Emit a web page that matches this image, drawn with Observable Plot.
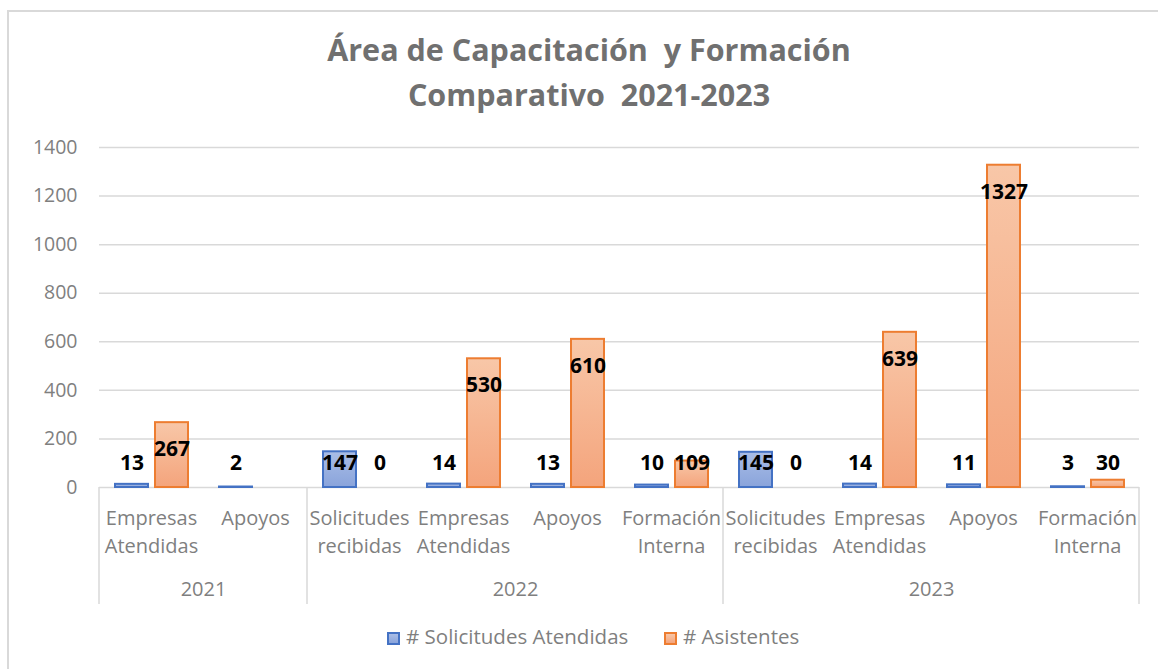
<!DOCTYPE html>
<html><head><meta charset="utf-8">
<script src="https://cdn.jsdelivr.net/npm/d3@7"></script>
<script src="https://cdn.jsdelivr.net/npm/@observablehq/plot@0.6"></script>
<style>
body{margin:0;background:#fff;font-family:"Open Sans",sans-serif;}
#wrap{position:relative;width:1158px;height:669px;overflow:hidden;background:#fff}
#border{position:absolute;left:7px;top:10px;width:1200px;height:720px;border:2px solid #d9d9d9;box-sizing:border-box}
#title{position:absolute;top:27px;left:0;width:1178px;text-align:center;font-weight:700;font-size:30.5px;line-height:45px;color:#707070}
#chart{position:absolute;top:120px;left:0}
.leg{position:absolute;top:622px;font-size:20.5px;color:#7f7f7f;line-height:28px;white-space:nowrap}
.sw{display:inline-block;width:13px;height:13px;vertical-align:-1px;margin-right:6px;box-sizing:border-box}
</style>
</head><body>
<div id="wrap">
<div id="border"></div>
<div id="title">Área de Capacitación&nbsp; y Formación<br>Comparativo&nbsp; 2021-2023</div>
<div id="chart"></div>
<div class="leg" style="left:387px"><span class="sw" style="background:linear-gradient(#a9bde6,#8aa4db);border:2px solid #4472c4"></span># Solicitudes Atendidas</div>
<div class="leg" style="left:664px"><span class="sw" style="background:linear-gradient(#f8c7a8,#f4a47c);border:2px solid #ed7d31"></span># Asistentes</div>
</div>
<script>
const years = ["2021", "2022", "2023"];
const categories = ["Empresas Atendidas", "Apoyos", "Solicitudes recibidas", "Empresas Atendidas", "Apoyos", "Formación Interna", "Solicitudes recibidas", "Empresas Atendidas", "Apoyos", "Formación Interna"];
const categoryYears = ["2021", "2021", "2022", "2022", "2022", "2022", "2023", "2023", "2023", "2023"];
const seriesNames = ["# Solicitudes Atendidas", "# Asistentes"];
const solicitudesAtendidas = [13, 2, 147, 14, 13, 10, 145, 14, 11, 3];
const asistentes = [267, null, 0, 530, 610, 109, 0, 639, 1327, 30];
const yTicks = [0, 200, 400, 600, 800, 1000, 1200, 1400];

const keys = categories.map((c, i) => categoryYears[i] + "|" + c);
const rows = [];
keys.forEach((k, i) => {
  rows.push({key: k, series: seriesNames[0], value: solicitudesAtendidas[i]});
  rows.push({key: k, series: seriesNames[1], value: asistentes[i]});
});
const catRows = keys.map((k, i) => ({key: k, label: categories[i].replace(" ", "\n")}));
const yearRows = years.map(y => {
  const ks = keys.filter((k, i) => categoryYears[i] === y);
  return {key: ks[ks.length / 2 - 1], year: y};
});

const gray = "#7f7f7f";
const chart = Plot.plot({
  width: 1158, height: 27 + 340 + 125,
  marginTop: 27, marginBottom: 125, marginLeft: 97, marginRight: 18,
  style: {fontFamily: "'Open Sans', sans-serif", background: "transparent", overflow: "visible"},
  fx: {domain: keys, padding: 0, axis: null},
  x: {domain: seriesNames, paddingInner: 0.175, paddingOuter: 0.3875, axis: null},
  y: {domain: [0, 1400], axis: null},
  marks: [
    Plot.gridY(yTicks, {stroke: "#d9d9d9", strokeOpacity: 1, strokeWidth: 1.5}),
    Plot.axisY(yTicks, {tickSize: 0, tickPadding: 22, fontSize: 19.5, fill: gray, label: null, tickFormat: d => String(d)}),
    Plot.barY(rows.filter(d => d.series === seriesNames[0] && d.value > 0), {fx: "key", x: "series", y: "value", fill: "url(#gBlue)", stroke: "#4472c4", strokeWidth: 2}),
    Plot.barY(rows.filter(d => d.series === seriesNames[1] && d.value > 0), {fx: "key", x: "series", y: "value", fill: "url(#gOrange)", stroke: "#ed7d31", strokeWidth: 2}),
    Plot.text(rows.filter(d => d.value != null), {fx: "key", x: "series", y: d => Math.max(d.value - 110, 99), text: d => String(d.value), fontWeight: 700, fontSize: 21, fill: "#000"}),
    Plot.text(catRows, {fx: "key", frameAnchor: "bottom", dy: 18, lineAnchor: "top", lineHeight: 1.4, text: "label", fontSize: 20, fill: gray}),
    Plot.text(yearRows, {fx: "key", frameAnchor: "bottom-right", textAnchor: "middle", dy: 108, text: "year", fontSize: 20, fill: gray})
  ]
});

const svg = d3.select(chart);
const defs = svg.insert("defs", ":first-child");
function grad(id, c1, c2) {
  const g = defs.append("linearGradient").attr("id", id).attr("x1", 0).attr("y1", 0).attr("x2", 0).attr("y2", 1);
  g.append("stop").attr("offset", "0%").attr("stop-color", c1);
  g.append("stop").attr("offset", "100%").attr("stop-color", c2);
}
grad("gBlue", "#a9bde6", "#8aa4db");
grad("gOrange", "#f8c7a8", "#f4a47c");

// group separators on the category axis, from the facet scale
const fx = chart.scale("fx");
const ys = chart.scale("y");
const y0 = ys.apply(0);
const bounds = [];
years.forEach(y => {
  const first = keys[categoryYears.indexOf(y)];
  bounds.push(fx.apply(first));
});
bounds.push(fx.apply(keys[keys.length - 1]) + fx.bandwidth);
const sep = svg.append("g").attr("stroke", "#d9d9d9").attr("stroke-width", 1.5);
bounds.forEach(b => sep.append("line").attr("x1", b).attr("x2", b).attr("y1", y0).attr("y2", y0 + 117));

document.getElementById("chart").appendChild(chart);
</script>
</body></html>
